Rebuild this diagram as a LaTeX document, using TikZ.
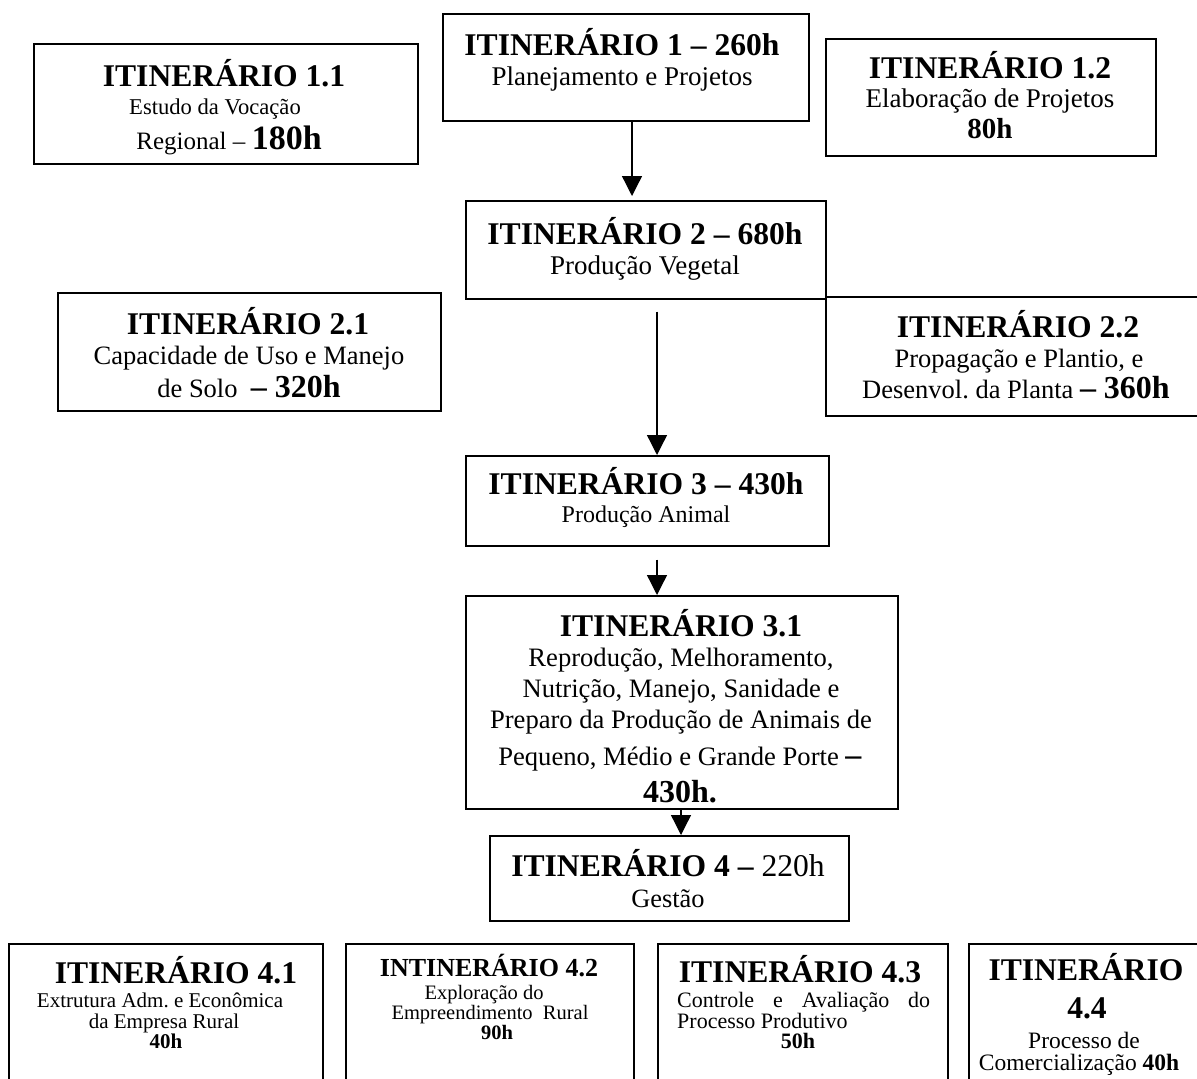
\documentclass[tikz,border=0pt]{standalone}
\usepackage{fontspec}
\setmainfont{Liberation Serif}
\usetikzlibrary{arrows.meta}
\frenchspacing
\begin{document}
\begin{tikzpicture}[x=1pt,y=-1pt,
  bx/.style={draw, line width=1.5pt, inner sep=0pt, anchor=north west},
  tl/.style={anchor=base, inner sep=0pt, font=\fontsize{31.6}{36}\selectfont\bfseries},
  tls/.style={anchor=base, inner sep=0pt, font=\fontsize{26}{30}\selectfont\bfseries},
  bd/.style={anchor=base, inner sep=0pt, font=\fontsize{#1}{#1}\selectfont},
  arr/.style={line width=1.3pt, -{Triangle[length=20pt,width=20pt]}},
]
\fill[white] (0,0) rectangle (1197,1079);
\useasboundingbox (0,0) rectangle (1197,1079);

% boxes
\node[bx, minimum width=366pt, minimum height=107pt] (b1) at (442,13) {};
\node[bx, minimum width=384pt, minimum height=120pt] (b11) at (33,43) {};
\node[bx, minimum width=330pt, minimum height=117pt] (b12) at (825,38) {};
\node[bx, minimum width=360pt, minimum height=98pt] (b2) at (465,200) {};
\node[bx, minimum width=383pt, minimum height=118pt] (b21) at (57,292) {};
\node[bx, minimum width=390pt, minimum height=119pt] (b22) at (825,296) {};
\node[bx, minimum width=363pt, minimum height=90pt] (b3) at (465,455) {};
\node[bx, minimum width=432pt, minimum height=213pt] (b31) at (465,595) {};
\node[bx, minimum width=359pt, minimum height=85pt] (b4) at (489,835) {};
\node[bx, minimum width=314pt, minimum height=160pt] (b41) at (8,943) {};
\node[bx, minimum width=288pt, minimum height=160pt] (b42) at (345,943) {};
\node[bx, minimum width=290pt, minimum height=160pt] (b43) at (657,943) {};
\node[bx, minimum width=250pt, minimum height=160pt] (b44) at (968,943) {};

% texts box 1
\node[tl] (t1a) at (622,55) {ITINERÁRIO 1 – 260h};
\node[bd=27] (t1b) at (622,85) {Planejamento e Projetos};
% box 1.1
\node[tl] (t11a) at (224,86) {ITINERÁRIO 1.1};
\node[bd=22.6] (t11b) at (215,114) {Estudo da Vocação};
\node[bd=25] (t11c) at (229,149) {Regional – \textbf{\fontsize{34}{34}\selectfont 180h}};
% box 1.2
\node[tl] (t12a) at (990,78) {ITINERÁRIO 1.2};
\node[bd=27] (t12b) at (990,107) {Elaboração de Projetos};
\node[bd=29] (t12c) at (990,138) {\bfseries 80h};
% box 2
\node[tl] (t2a) at (645,244) {ITINERÁRIO 2 – 680h};
\node[bd=27] (t2b) at (645,274) {Produção Vegetal};
% box 2.1
\node[tl] (t21a) at (248,334) {ITINERÁRIO 2.1};
\node[bd=26.5] (t21b) at (249,364) {Capacidade de Uso e Manejo};
\node[bd=26.5] (t21c) at (249,397) {de Solo\ \ \textbf{\fontsize{32}{32}\selectfont – 320h}};
% box 2.2
\node[tl] (t22a) at (1018,337) {ITINERÁRIO 2.2};
\node[bd=26.5] (t22b) at (1019,367) {Propagação e Plantio, e};
\node[bd=26.5] (t22c) at (1016,398) {Desenvol. da Planta \textbf{\fontsize{32}{32}\selectfont – 360h}};
% box 3
\node[tl] (t3a) at (646,494) {ITINERÁRIO 3 – 430h};
\node[bd=24] (t3b) at (646,522) {Produção Animal};
% box 3.1
\node[tl] (t31a) at (681,636) {ITINERÁRIO 3.1};
\node[bd=26.6] (t31b) at (681,666) {Reprodução, Melhoramento,};
\node[bd=26.6] (t31c) at (681,697) {Nutrição, Manejo, Sanidade e};
\node[bd=26.6] (t31d) at (681,728) {Preparo da Produção de Animais de};
\node[bd=26.6] (t31e) at (680,765) {Pequeno, Médio e Grande Porte \textbf{\fontsize{32}{32}\selectfont –}};
\node[bd=32] (t31f) at (680,802) {\bfseries 430h.};
% box 4
\node[tl] (t4a) at (668,876) {ITINERÁRIO 4 –\mdseries{} 220h};
\node[bd=26.4] (t4b) at (668,907) {Gestão};
% box 4.1
\node[tl] (t41a) at (176,983) {ITINERÁRIO 4.1};
\node[bd=21] (t41b) at (160,1007) {Extrutura Adm. e Econômica};
\node[bd=21] (t41c) at (164,1028) {da Empresa Rural};
\node[bd=21] (t41d) at (166,1048) {\bfseries 40h};
% box 4.2
\node[tls] (t42a) at (489,976) {INTINERÁRIO 4.2};
\node[bd=20.5] (t42b) at (484,999) {Exploração do};
\node[bd=20.5] (t42c) at (490,1019) {Empreendimento\ \ Rural};
\node[bd=20.5] (t42d) at (497,1039) {\bfseries 90h};
% box 4.3
\node[tl] (t43a) at (800,982) {ITINERÁRIO 4.3};
\node[bd=22, anchor=base west] (t43b) at (677,1007) {\makebox[253pt][s]{Controle e Avaliação do}};
\node[bd=22, anchor=base west] (t43c) at (677,1028) {Processo Produtivo};
\node[bd=22] (t43d) at (798,1048) {\bfseries 50h};
% box 4.4
\node[tl] (t44a) at (1086,980) {ITINERÁRIO};
\node[tl] (t44b) at (1087,1018) {4.4};
\node[bd=23.5] (t44c) at (1084,1048) {Processo de};
\node[bd=23.5] (t44d) at (1079,1070) {Comercialização \textbf{40h}};

% connectors
\coordinate (x1) at (632,0);
\coordinate (x2) at (657,0);
\coordinate (x4) at (681,0);
\draw[arr, shorten >=4pt] (b1.south -| x1) -- (b2.north -| x1);
\draw[arr, shorten <=12pt] (b2.south -| x2) -- (b3.north -| x2);
\draw[arr, shorten <=13pt] (b3.south -| x2) -- (b31.north -| x2);
\draw[arr] (b31.south -| x4) -- (b4.north -| x4);
\end{tikzpicture}
\end{document}
